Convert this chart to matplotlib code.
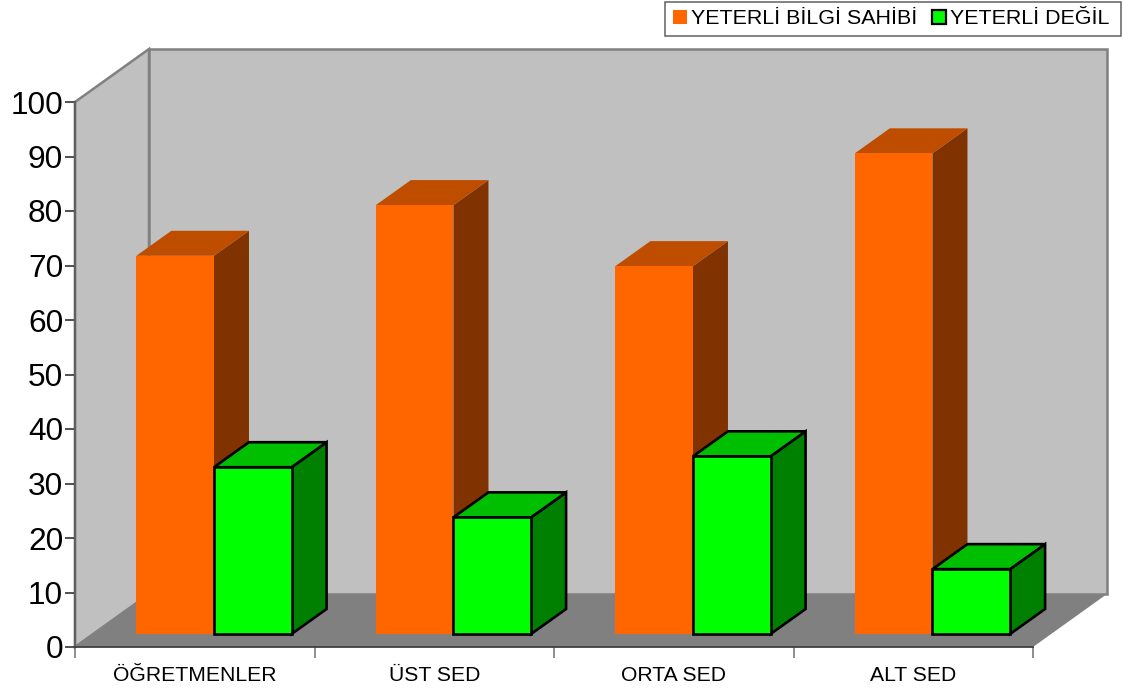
import matplotlib
matplotlib.use("Agg")
import matplotlib.pyplot as plt
from matplotlib.patches import Polygon, Patch

plt.rcParams['font.family'] = ['Liberation Sans', 'DejaVu Sans']

categories = ["ÖĞRETMENLER", "ÜST SED", "ORTA SED", "ALT SED"]
yeterli = [69.4, 78.7, 67.5, 88.2]
degil = [30.6, 21.4, 32.6, 11.9]
y_ticks = [0, 10, 20, 30, 40, 50, 60, 70, 80, 90, 100]
series_names = ["YETERLİ BİLGİ SAHİBİ", "YETERLİ DEĞİL\u2009"]

W, H = 1138, 690
fig = plt.figure(figsize=(W/100, H/100), dpi=100)
ax = fig.add_axes([75/W, (H-647)/H, 958/W, 545/H])
ax.set_xlim(0, 4)
ax.set_ylim(0, 100)
ax.patch.set_visible(False)

# depth of the room and of the bars, in data units
room_dx, room_dy = 74/239.5, 53/5.45
bar_dx, bar_dy = 35/239.5, 25/5.45
front_dx, front_dy = 18.5/239.5, 13/5.45
bar_w = 77.6/239.5
bar_start = 0.179


def poly(pts, fc, ec='none', lw=0, z=1):
    ax.add_patch(Polygon(pts, closed=True, facecolor=fc, edgecolor=ec, linewidth=lw,
                         zorder=z, clip_on=False, joinstyle='miter'))


def box(x, val, front, top, side, ec, lw, z):
    x0 = x + front_dx
    y0 = front_dy
    x1 = x0 + bar_w
    y1 = y0 + val
    poly([(x1, y0), (x1+bar_dx, y0+bar_dy), (x1+bar_dx, y1+bar_dy), (x1, y1)], side, ec, lw, z)
    poly([(x0, y1), (x1, y1), (x1+bar_dx, y1+bar_dy), (x0+bar_dx, y1+bar_dy)], top, ec, lw, z)
    poly([(x0, y0), (x1, y0), (x1, y1), (x0, y1)], front, ec, lw, z)


wall_ec = '#808080'
# left wall, back wall, floor
poly([(0, 0), (room_dx, room_dy), (room_dx, 100+room_dy), (0, 100)], '#C0C0C0', wall_ec, 1.8, z=1)
poly([(room_dx, room_dy), (4+room_dx, room_dy), (4+room_dx, 100+room_dy), (room_dx, 100+room_dy)],
     '#C0C0C0', wall_ec, 1.8, z=1)
poly([(0, 0), (4, 0), (4+room_dx, room_dy), (room_dx, room_dy)], '#808080', z=1.5)

for i in range(len(categories)):
    x = i + bar_start
    box(x, yeterli[i], '#FF6600', '#BF4D00', '#803300', 'none', 0, 2+i)
    box(x+bar_w, degil[i], '#00FF00', '#00BF00', '#008000', 'black', 1.9, 2.5+i)

for s in ['top', 'right']:
    ax.spines[s].set_visible(False)
ax.spines['left'].set_color('#606060')
ax.spines['left'].set_linewidth(1.6)
ax.spines['bottom'].set_color('#404040')
ax.spines['bottom'].set_linewidth(1.3)
ax.spines['left'].set_zorder(20)
ax.spines['bottom'].set_zorder(20)

ax.set_yticks(y_ticks)
ax.tick_params(axis='y', labelsize=22.8, length=7.5, width=1.1, color='#202020', pad=1)
ax.set_xticks(range(5))
ax.set_xticklabels([])
ax.tick_params(axis='x', which='major', length=8, width=1.1, color='#707070')
ax.set_xticks([i+0.5 for i in range(4)], minor=True)
ax.set_xticklabels(categories, minor=True, fontsize=15.2)
ax.tick_params(axis='x', which='minor', length=0, pad=14)

handles = [Patch(facecolor='#FF6600', edgecolor='none'),
           Patch(facecolor='#00FF00', edgecolor='black', linewidth=1.6)]
leg = fig.legend(handles, series_names, ncol=2, fontsize=15.4, loc='upper right',
                 bbox_to_anchor=(1121/W, (H-2)/H), bbox_transform=fig.transFigure,
                 fancybox=False, framealpha=1, edgecolor='#606060', borderaxespad=0,
                 handlelength=0.65, handleheight=0.65, handletextpad=0.2, columnspacing=0.67,
                 borderpad=0.35)
leg.get_frame().set_linewidth(1.1)

fig.savefig("out.png", dpi=100)
